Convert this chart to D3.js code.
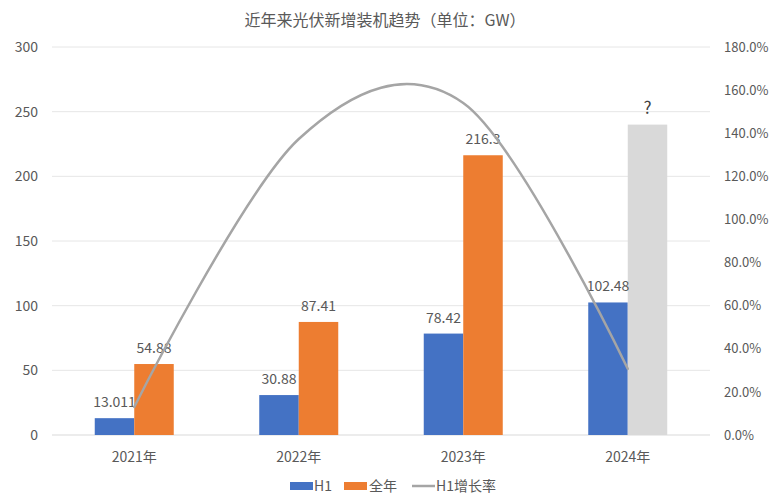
<!DOCTYPE html>
<html>
<head>
<meta charset="utf-8">
<script src="https://cdn.jsdelivr.net/npm/d3@7"></script>
<style>
  body { margin: 0; background: #fff; }
  text { font-family: "Noto Sans CJK SC", "Noto Sans", sans-serif; fill: #595959; }
</style>
</head>
<body>
<svg></svg>
<script>
const size = {w: 769, h: 495};
const margins = {t: 47, r: 59, b: 60, l: 52};

const years = ['2021年', '2022年', '2023年', '2024年'];
const h1Values = [13.011, 30.88, 78.42, 102.48];
const fullValues = [54.88, 87.41, 216.3, 240];
const fullLabels = ['54.88', '87.41', '216.3', '?'];
const growthRates = [0.13, 1.373, 1.54, 0.307];
const leftTicks = [0, 50, 100, 150, 200, 250, 300];
const rightTicks = [0, 0.2, 0.4, 0.6, 0.8, 1.0, 1.2, 1.4, 1.6, 1.8];

const svg = d3.select('svg')
    .attr('width', size.w)
    .attr('height', size.h);

const x = d3.scaleBand()
    .domain(years)
    .range([margins.l, size.w - margins.r]);

const xInner = d3.scaleBand()
    .domain(['h1', 'full'])
    .range([0, 79])
    .padding(0);

const yLeft = d3.scaleLinear()
    .domain([0, 300])
    .range([size.h - margins.b, margins.t]);

const yRight = d3.scaleLinear()
    .domain([0, 1.8])
    .range([size.h - margins.b, margins.t]);

// gridlines
svg.append('g')
    .selectAll('line')
    .data(leftTicks)
    .join('line')
    .attr('x1', margins.l)
    .attr('x2', size.w - margins.r)
    .attr('y1', d => yLeft(d))
    .attr('y2', d => yLeft(d))
    .attr('stroke', d => d === 0 ? '#d9d9d9' : '#e6e6e6')
    .attr('stroke-width', 1);

// left axis
svg.append('g')
    .attr('transform', `translate(${margins.l - 14}, 0)`)
    .call(d3.axisLeft(yLeft).tickValues(leftTicks).tickSize(0).tickPadding(0))
    .call(g => g.select('.domain').remove())
    .selectAll('text')
    .style('font-size', '14px')
    .style('font-family', '"Noto Sans CJK SC", sans-serif')
    .attr('fill', '#595959');

// right axis
svg.append('g')
    .attr('transform', `translate(${size.w - margins.r + 14}, 0)`)
    .call(d3.axisRight(yRight).tickValues(rightTicks).tickFormat(d3.format('.1%')).tickSize(0).tickPadding(0))
    .call(g => g.select('.domain').remove())
    .selectAll('text')
    .style('font-size', '13px')
    .style('font-family', '"Noto Sans CJK SC", sans-serif')
    .attr('fill', '#595959');

// x axis
svg.append('g')
    .attr('transform', `translate(0, ${size.h - margins.b})`)
    .call(d3.axisBottom(x).tickSize(0).tickPadding(17))
    .call(g => g.select('.domain').remove())
    .selectAll('text')
    .style('font-size', '14px')
    .style('font-family', '"Noto Sans CJK SC", sans-serif')
    .attr('fill', '#595959');

const groups = svg.append('g')
    .selectAll('g')
    .data(years)
    .join('g')
    .attr('transform', d => `translate(${x(d) + x.bandwidth() / 2 - 39.5}, 0)`);

// H1 bars
groups.append('rect')
    .attr('x', xInner('h1'))
    .attr('width', xInner.bandwidth())
    .attr('y', (d, i) => yLeft(h1Values[i]))
    .attr('height', (d, i) => yLeft(0) - yLeft(h1Values[i]))
    .attr('fill', '#4472c4');

// full-year bars
groups.append('rect')
    .attr('x', xInner('full'))
    .attr('width', xInner.bandwidth())
    .attr('y', (d, i) => yLeft(fullValues[i]))
    .attr('height', (d, i) => yLeft(0) - yLeft(fullValues[i]))
    .attr('fill', (d, i) => i === 3 ? '#d9d9d9' : '#ed7d31');

// labels
groups.append('text')
    .attr('x', xInner('h1') + xInner.bandwidth() / 2)
    .attr('y', (d, i) => yLeft(h1Values[i]) - 11)
    .attr('text-anchor', 'middle')
    .style('font-size', '14px')
    .text((d, i) => h1Values[i]);

groups.append('text')
    .attr('x', xInner('full') + xInner.bandwidth() / 2)
    .attr('y', (d, i) => yLeft(fullValues[i]) - 11)
    .attr('text-anchor', 'middle')
    .style('font-size', (d, i) => i === 3 ? '17px' : '14px')
    .style('fill', (d, i) => i === 3 ? '#404040' : '#595959')
    .text((d, i) => fullLabels[i]);

// growth line
const line = d3.line()
    .x((d, i) => x(years[i]) + x.bandwidth() / 2)
    .y(d => yRight(d))
    .curve(d3.curveCardinal.tension(0));

svg.append('path')
    .datum(growthRates)
    .attr('d', line)
    .attr('fill', 'none')
    .attr('stroke', '#a5a5a5')
    .attr('stroke-width', 2.5)
    .attr('stroke-linecap', 'round');

// title
svg.append('text')
    .attr('x', 385)
    .attr('y', 26)
    .attr('text-anchor', 'middle')
    .style('font-size', '16px')
    .text('近年来光伏新增装机趋势（单位：GW）');

// legend
const legend = svg.append('g').attr('transform', 'translate(0, 486)');
legend.append('rect').attr('x', 290).attr('y', -4).attr('width', 23).attr('height', 8).attr('fill', '#4472c4');
legend.append('text').attr('x', 314).attr('y', 5).style('font-size', '14px').text('H1');
legend.append('rect').attr('x', 344).attr('y', -4).attr('width', 23).attr('height', 8).attr('fill', '#ed7d31');
legend.append('text').attr('x', 369).attr('y', 5).style('font-size', '14px').text('全年');
legend.append('line').attr('x1', 412).attr('x2', 435).attr('y1', 0).attr('y2', 0).attr('stroke', '#a5a5a5').attr('stroke-width', 2.5);
legend.append('text').attr('x', 436).attr('y', 5).style('font-size', '14px').text('H1增长率');
</script>
</body>
</html>
